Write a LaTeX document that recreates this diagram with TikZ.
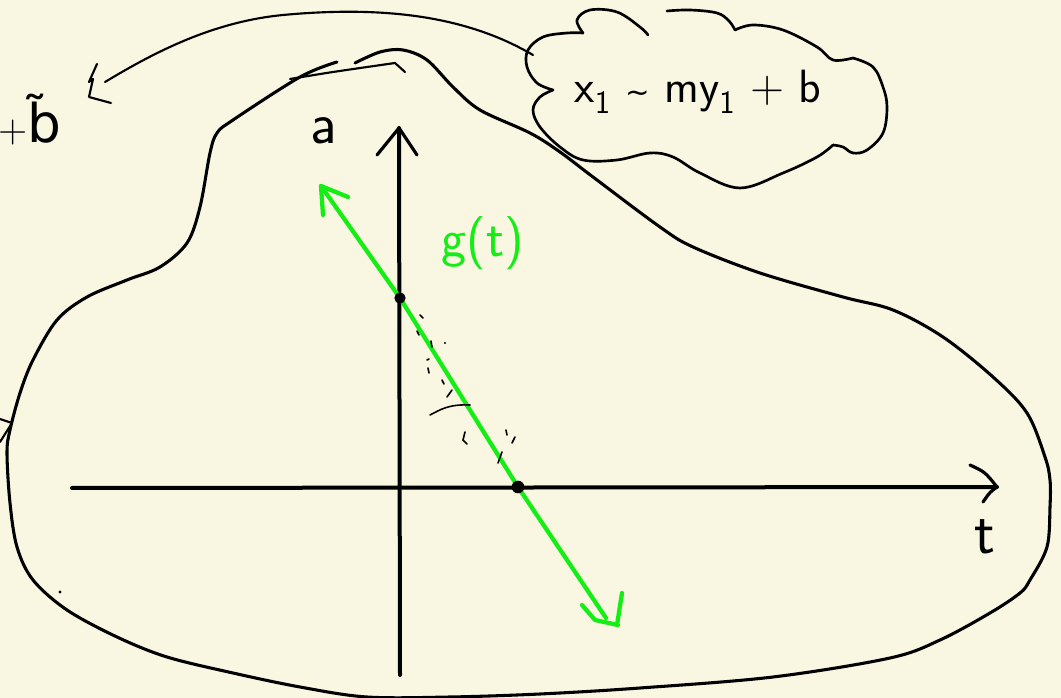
\documentclass[tikz,border=0pt]{standalone}
\usepackage{fontspec}
\newfontfamily\symfont{DejaVu Sans}
\definecolor{bg}{RGB}{249,247,226}
\definecolor{lime}{RGB}{20,238,20}
\tikzset{
  ink/.style={line width=2.3pt, line cap=round, line join=round},
  thinink/.style={line width=1.6pt, line cap=round, line join=round},
  scribble/.style={line width=1.2pt, line cap=round},
  axisline/.style={line width=3pt, line cap=round},
  gline/.style={line width=3.2pt, draw=lime, line cap=round, line join=round},
  lbl/.style={font=\sffamily, inner sep=0pt},
  dotnode/.style={circle, fill=black, inner sep=0pt, minimum size=8.5pt},
}
\begin{document}
\begin{tikzpicture}[x=0.75pt,y=-0.75pt]
\fill[bg] (0,0) rectangle (1061,698);
\useasboundingbox (0,0) rectangle (1061,698);

% main blob
\draw[ink] plot[smooth, tension=0.55] coordinates {
(355,63) (380,52) (403,50) (427,60) (453,87) (480,110) (530,133) (560,152)
(593,177) (660,227) (693,247) (760,273) (843,297) (893,310) (943,337)
(993,377) (1027,413) (1045,457) (1050,480) (1050,507) (1047,547) (1030,580)
(1020,593) (990,613) (940,640) (890,658) (773,677) (640,688) (540,694)
(450,697) (367,697) (300,687) (233,673) (167,657) (117,637) (67,610)
(33,580) (17,547) (10,503) (7,453) (10,430) (20,393) (33,360) (57,320)
(87,297) (127,280) (160,267) (187,243) (200,207) (210,153) (217,133)
(233,120) (300,77) (337,62)};
\draw[thinink] plot[smooth, tension=0.5] coordinates {(290,79) (333,72) (395,63)} -- (405,72);
\draw[thinink] (0,419) -- (12,423) -- (0,442);
\fill (60,592) circle[radius=1.3pt];

% cloud
\draw[ink, line width=2pt] plot[smooth, tension=0.6] coordinates {(583,33) (577,20) (590,10) (617,12) (640,27) (648,35)};
\draw[ink, line width=2pt] plot[smooth, tension=0.6] coordinates {(583,33) (567,33) (543,37) (528,50) (527,67) (537,83) (553,90)};
\draw[ink, line width=2pt] plot[smooth, tension=0.6] coordinates {(553,90) (540,97) (533,110) (540,127) (560,147) (583,160) (617,160) (650,153) (673,157) (700,173) (740,188) (783,173) (817,157) (833,145)};
\draw[ink, line width=2pt] plot[smooth, tension=0.6] coordinates {(833,145) (843,147) (853,153) (867,150) (883,133) (887,107) (883,87) (873,67) (853,58)};
\draw[ink, line width=2pt] plot[smooth, tension=0.6] coordinates {(853,58) (833,60) (817,47) (783,30) (753,25) (735,30)};
\draw[ink, line width=2pt] plot[smooth, tension=0.6] coordinates {(735,30) (729,21) (717,13) (690,10) (667,11)};
\node[lbl, font=\sffamily\fontsize{35}{40}\selectfont] (cloud) at (698,92)
  {x\textsubscript{1} {\symfont\fontsize{22}{22}\selectfont ∼} my\textsubscript{1} + b};

% arrow from cloud to the left text
\node[lbl, font=\sffamily\fontsize{30}{34}\selectfont, anchor=base west] (tb) at (-2,143)
  {+{\symfont\fontsize{40}{44}\selectfont b̃}};
\coordinate (cl) at (533,55);
\coordinate (tip) at (105,82);
\draw[thinink] (cl) .. controls (470,18) and (390,5) .. (283,15) .. controls (210,22) and (150,55) .. (tip);
\draw[thinink] (97,64) -- (89,82) -- (93,79) -- (89,97) -- (111,103);

% axes
\coordinate (vtop) at (399,128);
\coordinate (vbot) at (400,675);
\coordinate (hl) at (72,488);
\coordinate (hr) at (997,487);
\draw[axisline] (vbot) -- (vtop);
\draw[axisline] (hl) -- (hr);
\draw[ink, line width=2.4pt] (377,155) -- (vtop) -- (417,155);
\draw[ink, line width=2.4pt] (970,465) .. controls (985,472) .. (hr) .. controls (990,492) .. (983,502);
\node[lbl, font=\sffamily\fontsize{44}{48}\selectfont] (la) at (324,131) {a};
\node[lbl, font=\sffamily\fontsize{46}{50}\selectfont] (lt) at (985,537) {t};

% green line g(t)
\coordinate (gA) at (321,186);
\coordinate (gB) at (606,618);
\coordinate (p1c) at (400,298);
\coordinate (p2c) at (518,487);
\draw[gline] (gA) -- (p1c) -- (p2c) -- (gB);
\draw[gline] (348,197) -- (gA) -- (323,215);
\draw[gline] (582,605) -- (595,620) -- (618,625);
\draw[gline] (622,593) -- (617,625);
\node[dotnode] (p1) at (p1c) {};
\node[dotnode, minimum size=9.5pt] (p2) at (p2c) {};
\node[lbl, text=lime, font=\sffamily\fontsize{40}{44}\selectfont] (lg) at (483,243) {g(t)};

% sketch marks between the points
\draw[scribble] (420,315) -- (423,318);
\draw[scribble] (417,331) -- (419,335);
\draw[scribble] (431,341) -- (432,347);
\fill (445,343) circle[radius=0.9pt];
\draw[scribble] (427,360) -- (429,359);
\draw[scribble] (428,368) -- (429,373);
\draw[scribble] (442,380) -- (444,384);
\draw[scribble] (447,397) -- (452,390);
\draw[scribble] (430,415) .. controls (440,410) and (448,404) .. (470,405);
\draw[scribble] (465,432) -- (463,440) -- (467,444);
\draw[scribble] (506,430) -- (507,435);
\draw[scribble] (515,437) -- (512,443);
\draw[scribble] (502,452) -- (498,463);
\end{tikzpicture}
\end{document}
